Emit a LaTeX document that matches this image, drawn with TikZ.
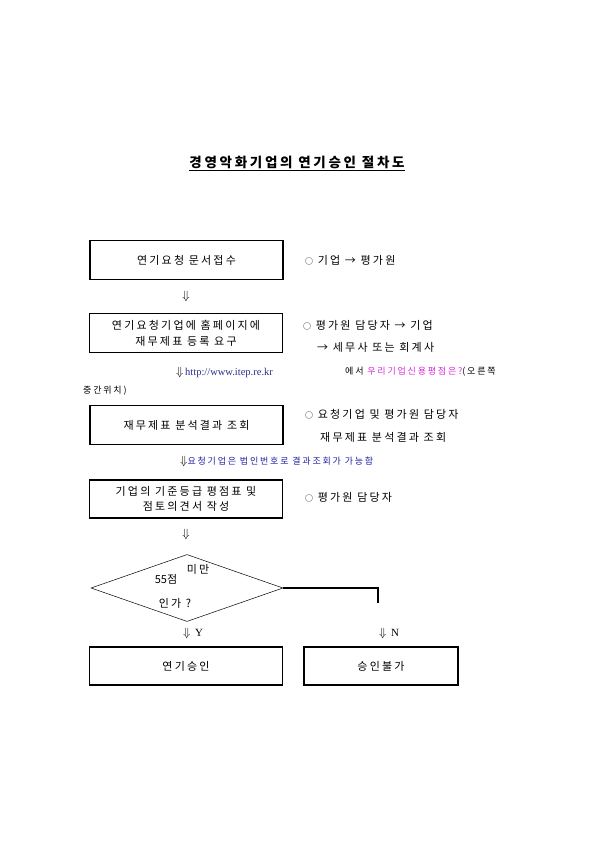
\documentclass[tikz,border=0pt]{standalone}
\usepackage{fontspec}
\setmainfont{Noto Sans CJK KR}[LetterSpace=20]
\newfontfamily\latinserif{Liberation Serif}
\usetikzlibrary{shapes.geometric,positioning}
\definecolor{linkblue}{RGB}{45,45,140}
\definecolor{pinktext}{RGB}{215,40,215}
\definecolor{notebluetext}{RGB}{30,30,165}
\newcommand{\smallring}{{\fontsize{8}{10}\selectfont ○}}
\newcommand{\dnarrow}{{\fontsize{13}{14}\selectfont$\Downarrow$}}

\begin{document}
\begin{tikzpicture}[x=1pt, y=-1pt, font=\fontsize{11}{14}\selectfont,
  stepbox/.style={draw, line width=1.1pt, minimum width=193pt, minimum height=39pt,
                  align=center, inner sep=2pt},
  remark/.style={anchor=west, inner sep=0pt},
  downmark/.style={inner sep=0pt}]

% =====================================================================
% page frame (595 x 842), y runs downward
% =====================================================================
\useasboundingbox (0,0) rectangle (595,842);

% ===== TITLE =====
\node[inner sep=0pt, font=\fontsize{13.5}{16}\selectfont\bfseries] (title) at (297,163)
  {\underline{경영악화기업의 연기승인 절차도}};

% ===== STEP 1 =====
\node[stepbox] (req) at (186.5,260) {연기요청 문서접수};
\node[remark] (reqnote) at (305,260) {\smallring\ 기업 → 평가원};
\node[downmark] (down1) at (186,296) {\dnarrow};

% ===== STEP 2 =====
\node[stepbox] (upload) at (186,333) {연기요청기업에 홈페이지에\\[2pt]재무제표 등록 요구};
\node[remark] (uploadnote) at (303,325) {\smallring\ 평가원 담당자 → 기업};
\node[remark] (uploadnote2) at (317,347) {→ 세무사 또는 회계사};

% url line
\node[remark, font=\fontsize{10}{12}\selectfont] (url) at (176,372)
  {\dnarrow\,\textcolor{linkblue}{\latinserif\fontsize{10.5}{12}\selectfont http://www.itep.re.kr}};
\node[remark, font=\fontsize{9}{12}\selectfont] (urlnote) at (345,372)
  {에서 \textcolor{pinktext}{우리기업신용평점은?}(오른쪽};
\node[remark, font=\fontsize{9}{12}\selectfont] (urlnote2) at (83,391) {중간위치)};

% ===== STEP 3 =====
\node[stepbox] (result) at (186.5,425) {재무제표 분석결과 조회};
\node[remark] (resultnote) at (305,414) {\smallring\ 요청기업 및 평가원 담당자};
\node[remark] (resultnote2) at (320,437) {재무제표 분석결과 조회};
\node[remark, font=\fontsize{9}{12}\selectfont] (corpno) at (180,461)
  {\dnarrow\textcolor{notebluetext}{요청기업은 법인번호로 결과조회가 가능함}};

% ===== STEP 4 =====
\node[stepbox, minimum height=38pt] (grade) at (186,499) {기업의 기준등급 평점표 및\\[1pt]점토의견서 작성};
\node[remark] (gradenote) at (305,497) {\smallring\ 평가원 담당자};
\node[downmark] (down2) at (186,534) {\dnarrow};

% ===== DECISION =====
\node[draw, diamond, line width=0.5pt, minimum width=192pt, minimum height=67pt,
      inner sep=0pt] (check) at (187,588) {};
\node[inner sep=0pt] (checkA) at (198,569) {미만};
\node[inner sep=0pt] (checkB) at (166,579) {\addfontfeature{LetterSpace=0}55점};
\node[inner sep=0pt] (checkC) at (175,603) {인가 ?};
\coordinate (bend) at (378,588);
\coordinate (nend) at (378,603);
\draw[line width=1.2pt] (check.east) -- (bend) -- (nend);

\node[downmark] (yes) at (193,633) {\dnarrow\ {\latinserif Y}};
\node[downmark] (no) at (389,633) {\dnarrow\ {\latinserif N}};

% ===== OUTCOMES =====
\node[stepbox, minimum height=38pt] (approve) at (186,666) {연기승인};
\node[stepbox, minimum width=154pt, minimum height=38pt] (reject) at (381,666) {승인불가};

\end{tikzpicture}
\end{document}
